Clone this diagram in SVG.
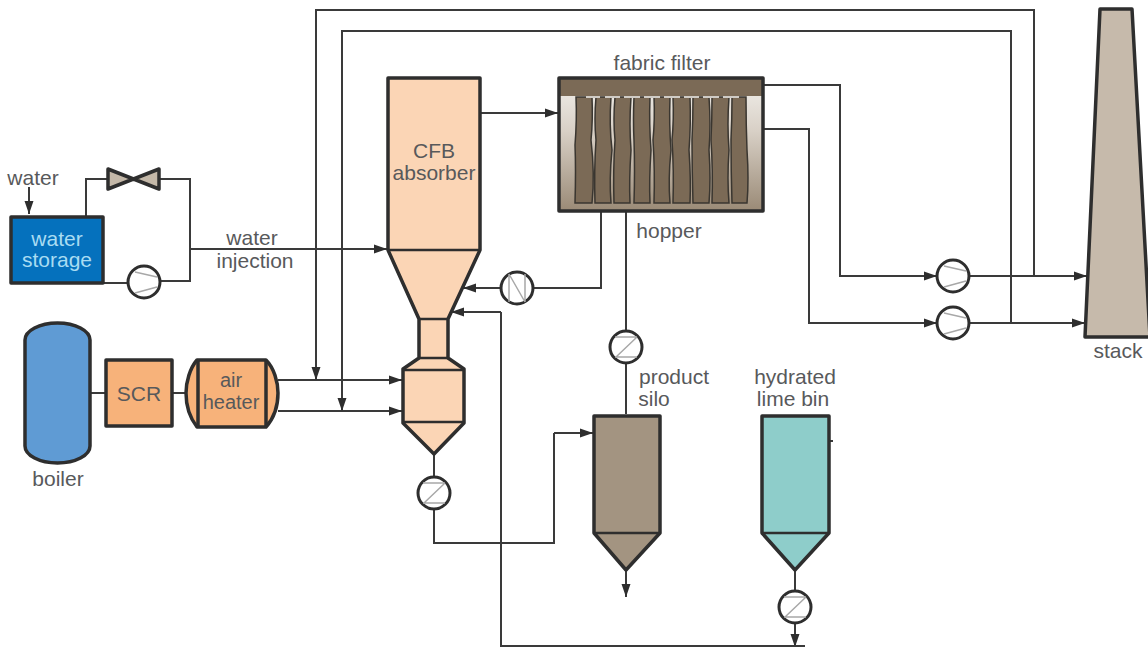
<svg xmlns="http://www.w3.org/2000/svg" width="1148" height="648" viewBox="0 0 1148 648">
<style>
text{font-family:"Liberation Sans",Arial,sans-serif;font-size:21px;fill:#58595b;text-anchor:middle}
.l{fill:none;stroke:#3a3a3a;stroke-width:2}
.a{fill:none;stroke:#3a3a3a;stroke-width:2;marker-end:url(#ah)}
.s{stroke:#2e2e2e;stroke-width:3.5;stroke-linejoin:round}
.in{fill:none;stroke:#2e2e2e;stroke-width:2.5}
.c{fill:#fff;stroke:#2e2e2e;stroke-width:3}
.g{fill:none;stroke:#a8a8a8;stroke-width:1.5}
.bag{fill:#7b6a56;stroke:#3a3630;stroke-width:1.5}
.tight{font-size:20px}
</style>
<defs>
<marker id="ah" markerUnits="userSpaceOnUse" markerWidth="14" markerHeight="10" refX="13" refY="5" orient="auto"><path d="M0,0.5 L13,5 L0,9.5 Z" fill="#2e2e2e"/></marker>
<linearGradient id="ff" x1="0" y1="0" x2="0" y2="1"><stop offset="0" stop-color="#f2f0ec"/><stop offset="0.4" stop-color="#d8d0c6"/><stop offset="1" stop-color="#9a8a76"/></linearGradient>
<g id="pump"><circle class="c" cx="0" cy="0" r="16"/><path class="g" d="M-9,-10 L13,-5 M-9,11 L13,5"/></g>
<g id="vz"><circle class="c" cx="0" cy="0" r="16"/><path class="g" d="M-11,-10 H11 M-11,10 H11 M-10,10 L11,-10"/></g>
</defs>

<g id="connectors">
<path class="a" d="M29,187 V214"/>
<path class="l" d="M86,216 V179 H108 M159,179 H190 V281 H160 M128,283 H104"/>
<path class="a" d="M190,249 H387"/>
<path class="l" d="M91,393 H106 M172,393 H186"/>
<path class="a" d="M278,380 H402"/>
<path class="a" d="M278,411 H402"/>
<path class="a" d="M1034,276 V10 H316 V380"/>
<path class="a" d="M1011,323 V31 H342 V411"/>
<path class="a" d="M480,113 H558"/>
<path class="l" d="M601,211 V288 H534"/>
<path class="a" d="M501,288 H463"/>
<path class="l" d="M626,211 V332 M626,363 V414"/>
<path class="a" d="M763,85 H840 V276 H937"/>
<path class="a" d="M763,129 H809 V323 H937"/>
<path class="a" d="M969,276 H1087"/>
<path class="a" d="M969,323 H1085"/>
<path class="l" d="M434,454 V477 M434,509 V543 H554 V433"/>
<path class="a" d="M554,433 H593"/>
<path class="a" d="M626,570 V597"/>
<path class="l" d="M795,570 V591"/>
<path class="a" d="M795,623 V647"/>
<path class="l" d="M805,646 H501 V312"/>
<path class="a" d="M501,312 H451"/>
<path class="l" d="M829,441 H833"/>
</g>

<g id="water-storage"><rect class="s" x="11" y="217" width="92" height="66" fill="#0571bd"/><text x="57" y="246" style="fill:#a9dcf2">water</text><text x="57" y="267" style="fill:#a9dcf2">storage</text></g>
<g id="valve"><path class="s" d="M108,169 L159,189 V169 L108,189 Z" fill="#c4b8a8" stroke-width="2.5"/></g>
<g id="pump-water"><use href="#pump" x="144" y="282"/></g>
<g id="boiler"><path class="s" d="M25,340 A32.5,17 0 0 1 90,340 V446 A32.5,17 0 0 1 25,446 Z" fill="#5f9bd4"/><text x="58" y="486">boiler</text></g>
<g id="scr"><rect class="s" x="106" y="360" width="66" height="66" fill="#f7b27a"/><text x="139" y="401">SCR</text></g>
<g id="air-heater"><path class="s" d="M197,360 H266 C274,368 278,382 278,393 C278,405 274,418 266,427 H197 C190,418 186,405 186,393 C186,382 190,368 197,360 Z" fill="#f7b27a"/><path class="s" d="M198,360 V427 M266,360 V427" fill="none"/><text class="tight" x="231" y="387">air</text><text class="tight" x="231" y="409">heater</text></g>
<g id="cfb-absorber"><path class="s" d="M388,78 H480 V250 L448,319 V358 L464,369 V423 L434,454 L403,423 V369 L419,358 V319 L388,250 Z" fill="#fbd5b5"/><path class="in" d="M388,250 H480 M419,319 H448 M419,358 H448 M403,370 H464 M403,422 H464"/><text x="434" y="158">CFB</text><text x="434" y="180">absorber</text></g>
<g id="fabric-filter"><rect x="559" y="78" width="204" height="133" fill="url(#ff)"/>
<path class="bag" d="M576,97 H592 Q593,120 591,140 Q595,175 592,203 H575 Q576,170 575,145 Q577,120 576,97 Z"/>
<path class="bag" d="M596,97 H611 Q609,125 612,150 Q609,180 611,203 H595 Q594,170 596,140 Q594,120 596,97 Z"/>
<path class="bag" d="M615,97 H631 Q629,125 631,150 Q629,180 630,203 H614 Q613,170 615,140 Q613,120 615,97 Z"/>
<path class="bag" d="M634,97 H650 Q649,125 651,150 Q649,180 650,203 H634 Q635,170 634,140 Q633,120 634,97 Z"/>
<path class="bag" d="M654,97 H670 Q669,125 671,150 Q668,180 670,203 H654 Q655,170 653,140 Q655,120 654,97 Z"/>
<path class="bag" d="M673,97 H690 Q691,125 689,150 Q691,180 690,203 H673 Q674,170 672,140 Q674,120 673,97 Z"/>
<path class="bag" d="M693,97 H709 Q711,125 709,150 Q711,180 709,203 H693 Q692,170 692,140 Q693,120 693,97 Z"/>
<path class="bag" d="M712,97 H729 Q727,125 729,150 Q727,180 729,203 H712 Q713,170 711,140 Q712,120 712,97 Z"/>
<path class="bag" d="M732,97 H746 Q746,125 747,150 Q749,180 747,203 H732 Q731,170 731,140 Q732,120 732,97 Z"/>
<path style="fill:none;stroke:#cfcbc5;stroke-width:2" d="M586,97 H600 M605,97 H620 M624,97 H640 M644,97 H660 M664,97 H680 M684,97 H699 M703,97 H719 M723,97 H739"/>
<rect x="559" y="78" width="204" height="18" fill="#7b6a56"/>
<rect class="s" x="559" y="78" width="204" height="133" fill="none"/><text x="662" y="70">fabric filter</text><text x="669" y="238">hopper</text></g>
<g id="pump-recycle"><circle class="c" cx="517" cy="288" r="16"/><path class="g" d="M509,274 V302 M525,274 V302 M509,274 L525,302"/></g>
<g id="valve-hopper"><use href="#vz" x="626" y="347"/></g>
<g id="valve-bottom"><use href="#vz" x="434" y="493"/></g>
<g id="valve-lime"><use href="#vz" x="795" y="607"/></g>
<g id="product-silo"><path class="s" d="M594,416 H660 V533 L626,570 L594,533 Z" fill="#a39481"/><path class="in" d="M594,533 H660"/><text x="674" y="384">product</text><text x="654" y="406">silo</text></g>
<g id="lime-bin"><path class="s" d="M762,416 H829 V533 L795,570 L762,533 Z" fill="#8ecdca"/><path class="in" d="M762,533 H829"/><text x="795" y="384">hydrated</text><text x="793" y="406">lime bin</text></g>
<g id="fan-1"><use href="#pump" x="953" y="276"/></g>
<g id="fan-2"><use href="#pump" x="953" y="323"/></g>
<g id="stack"><path class="s" d="M1100,9 H1132 L1150,337 H1085 Z" fill="#c6baab"/><text x="1118" y="358">stack</text></g>
<g id="labels"><text x="33" y="185">water</text><text x="252" y="245">water</text><text x="255" y="268">injection</text></g>
</svg>
